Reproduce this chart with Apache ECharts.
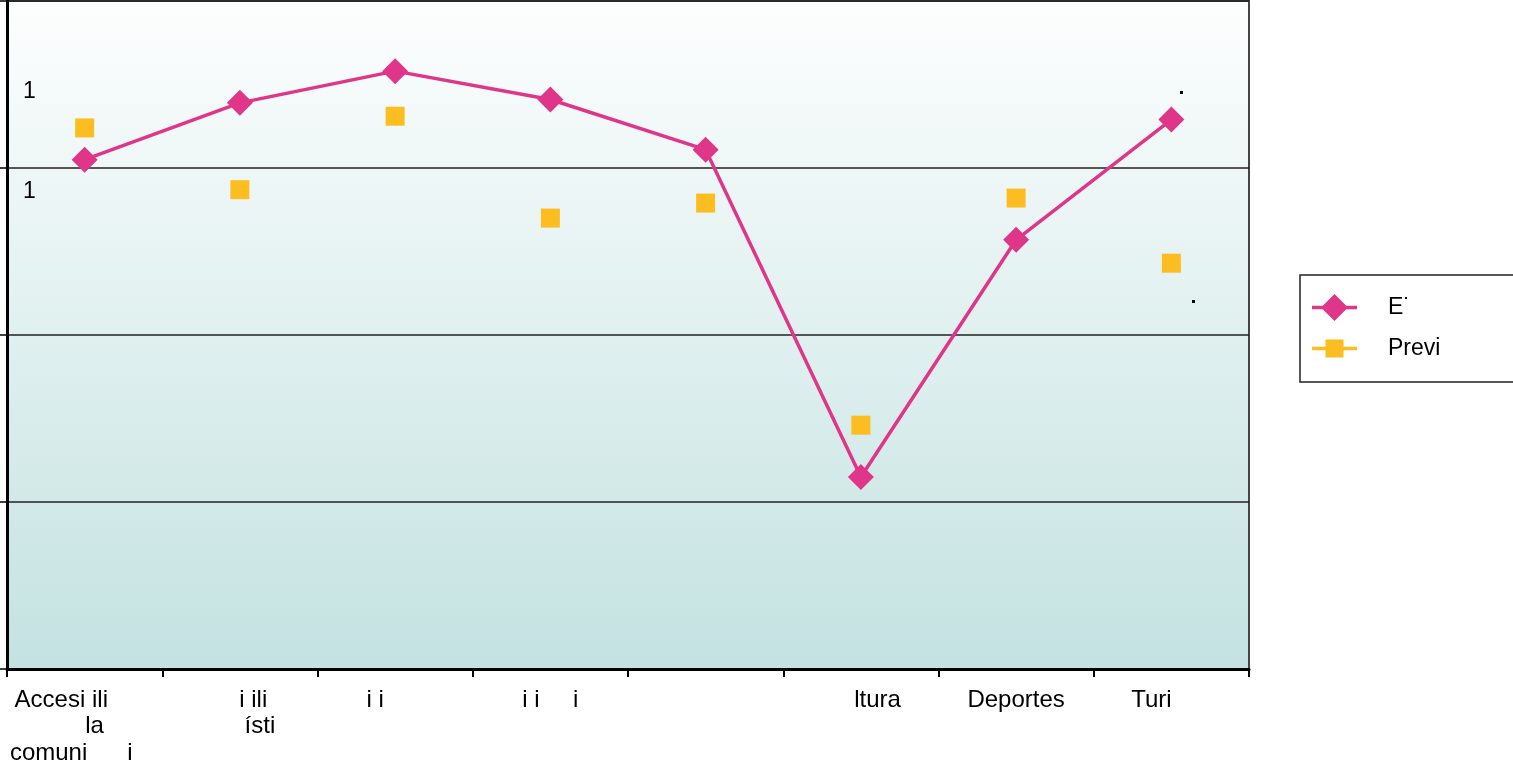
<!DOCTYPE html>
<html>
<head>
<meta charset="utf-8">
<script src="https://cdn.jsdelivr.net/npm/echarts@6/dist/echarts.min.js"></script>
<style>
html,body{margin:0;padding:0;background:#fff;}
#c{width:1513px;height:763px;}
</style>
</head>
<body>
<div id="c"></div>
<script>
var categories = [
  "Accesi ili       \n   la\ncomuni      i    ",
  "    i ili\n      ísti",
  "i i      ",
  "i i     i",
  "",
  "     ltura",
  "Deportes",
  "Turi      "
];
var seriesNames = ["E˙", "Previ"];
var seriesE = [3.05, 3.39, 3.58, 3.41, 3.11, 1.15, 2.57, 3.29];
var seriesPrevi = [3.24, 2.87, 3.31, 2.70, 2.79, 1.46, 2.82, 2.43];

var FONT = "Liberation Sans";
var iconDiamond = 'path://M0 11.8L45 11.8L45 15.2L0 15.2Z M22.5 0L36 13.5L22.5 27L9 13.5Z';
var iconSquare = 'path://M0 11.8L45 11.8L45 15.2L0 15.2Z M13.5 4.5L31.5 4.5L31.5 22.5L13.5 22.5Z';

var chart = echarts.init(document.getElementById('c'));
chart.setOption({
  animation: false,
  backgroundColor: '#ffffff',
  textStyle: {fontFamily: FONT},
  grid: {
    left: 7, right: 264, top: 1, bottom: 94,
    containLabel: false,
    outerBoundsMode: 'none',
    show: true,
    borderColor: '#444',
    borderWidth: 2,
    backgroundColor: new echarts.graphic.LinearGradient(0, 0, 0, 1, [
      {offset: 0, color: '#fdfefe'},
      {offset: 1, color: '#c3e2e1'}
    ])
  },
  legend: {
    left: 1300, top: 275,
    orient: 'vertical',
    padding: [19, 220, 22, 12],
    borderColor: '#222',
    borderWidth: 1.5,
    borderRadius: 0,
    itemWidth: 45, itemHeight: 27, itemGap: 16,
    textStyle: {fontSize: 23, color: '#000', fontFamily: FONT, padding: [0, 0, 0, 26]},
    data: [
      {name: seriesNames[0], icon: iconDiamond, itemStyle: {color: '#e0368a'}},
      {name: seriesNames[1], icon: iconSquare, itemStyle: {color: '#fbbd1f'}}
    ]
  },
  xAxis: {
    type: 'category',
    data: categories,
    boundaryGap: true,
    axisLine: {lineStyle: {color: '#000', width: 3}},
    axisTick: {show: true, length: 8, lineStyle: {color: '#000', width: 2}},
    axisLabel: {
      interval: 0, fontSize: 24, color: '#000', fontFamily: FONT,
      lineHeight: 26.5, margin: 18
    },
    splitLine: {show: false}
  },
  yAxis: {
    type: 'value',
    min: 0, max: 4, interval: 1,
    axisLine: {show: true, lineStyle: {color: '#000', width: 3}},
    axisTick: {show: true, length: 7, lineStyle: {color: '#000', width: 1.5}},
    axisLabel: {show: false},
    splitLine: {show: true, lineStyle: {color: '#222', width: 1.5}}
  },
  graphic: [
    {type: 'text', left: 23, top: 80, style: {text: '1', fontSize: 23, fill: '#000', fontFamily: FONT}},
    {type: 'text', left: 23, top: 180, style: {text: '1', fontSize: 23, fill: '#000', fontFamily: FONT}},
    {type: 'rect', shape: {x: 1180, y: 91, width: 3, height: 3}, style: {fill: '#000'}},
    {type: 'rect', shape: {x: 1192, y: 300, width: 3, height: 3}, style: {fill: '#000'}}
  ],
  series: [
    {
      name: seriesNames[0],
      type: 'line',
      data: seriesE,
      symbol: 'diamond',
      symbolSize: 26,
      lineStyle: {color: '#e0368a', width: 3.5},
      itemStyle: {color: '#e0368a'},
      z: 3
    },
    {
      name: seriesNames[1],
      type: 'line',
      data: seriesPrevi,
      symbol: 'rect',
      symbolSize: 19,
      lineStyle: {color: '#fbbd1f', width: 3, opacity: 0},
      itemStyle: {color: '#fbbd1f'},
      z: 2
    }
  ]
});
</script>
</body>
</html>
